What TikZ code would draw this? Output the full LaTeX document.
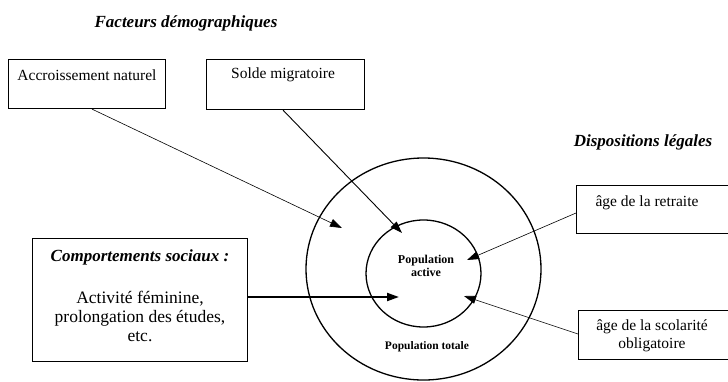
\documentclass[tikz,border=0pt]{standalone}
\usepackage{fontspec}
\setmainfont{Liberation Serif}
\usetikzlibrary{arrows.meta,shapes.geometric,calc}
\tikzset{
  box/.style={draw, line width=1.1pt, rectangle, inner sep=0pt, anchor=north west},
  ring/.style={draw, line width=1.3pt, ellipse, inner sep=0pt, outer sep=0pt},
  txt/.style={inner sep=0pt, font=\fontsize{15.5}{18}\selectfont, align=center},
  ttl/.style={inner sep=0pt, font=\fontsize{17}{20}\selectfont\bfseries\itshape, align=center},
  poptxt/.style={inner sep=0pt, font=\fontsize{11.5}{13}\selectfont\bfseries, align=center},
  tip/.style={-{Triangle[length=12pt,width=8pt]}},
}
\begin{document}
\begin{tikzpicture}[x=1pt,y=-1pt]
\useasboundingbox (0,0) rectangle (728,381);
% titles
\node[ttl] (t1) at (186,23) {Facteurs démographiques};
\node[ttl] (t2) at (643,142) {Dispositions légales};
% top boxes
\node[box, minimum width=157pt, minimum height=49pt] (acc) at (8,59) {};
\node[txt] (acct) at (87,75) {Accroissement naturel};
\node[box, minimum width=158pt, minimum height=50pt] (sol) at (206,59) {};
\node[txt] (solt) at (283,75) {Solde migratoire};
% right boxes (cut by the right edge)
\node[box, minimum width=160pt, minimum height=48pt] (ret) at (576,185) {};
\node[txt] (rett) at (647,203) {âge de la retraite};
\node[box, minimum width=160pt, minimum height=49pt] (sco) at (578,310) {};
\node[txt, font=\fontsize{15.5}{18.5}\selectfont] (scot) at (652,336) {âge de la scolarité\\obligatoire};
% left box
\node[box, minimum width=215pt, minimum height=123pt] (com) at (32,238) {};
\node[ttl] (comt) at (140,257) {Comportements sociaux :};
\node[txt, font=\fontsize{17.5}{19}\selectfont] (comb) at (140,316) {Activité féminine,\\prolongation des études,\\etc.};
% circles
\node[ring, minimum width=235pt, minimum height=222pt] (outer) at (423.5,269) {};
\node[ring, minimum width=115pt, minimum height=107pt] (inner) at (423.5,273.5) {};
\node[poptxt, font=\fontsize{12}{13}\selectfont\bfseries] (pa) at (426,266) {Population\\active};
\node[poptxt] (pt) at (427,347) {Population totale};
% tip coordinates
\coordinate (accend) at (342,228);
\coordinate (solend) at (402,233);
\coordinate (comend) at (399,297);
\coordinate (retend) at (467,260);
\coordinate (scoend) at (464,296);
% connectors
\draw[tip, line width=0.6pt] ($(acc.south west)+(84,0)$) -- (accend);
\draw[tip, line width=0.9pt] ($(sol.south west)+(77,0)$) -- (solend);
\draw[tip, line width=2pt] ($(com.north east)+(0,59)$) -- (comend);
\draw[tip, line width=0.6pt] ($(ret.north west)+(0,28)$) -- (retend);
\draw[tip, line width=0.6pt] ($(sco.north west)+(0,24)$) -- (scoend);
\end{tikzpicture}
\end{document}
